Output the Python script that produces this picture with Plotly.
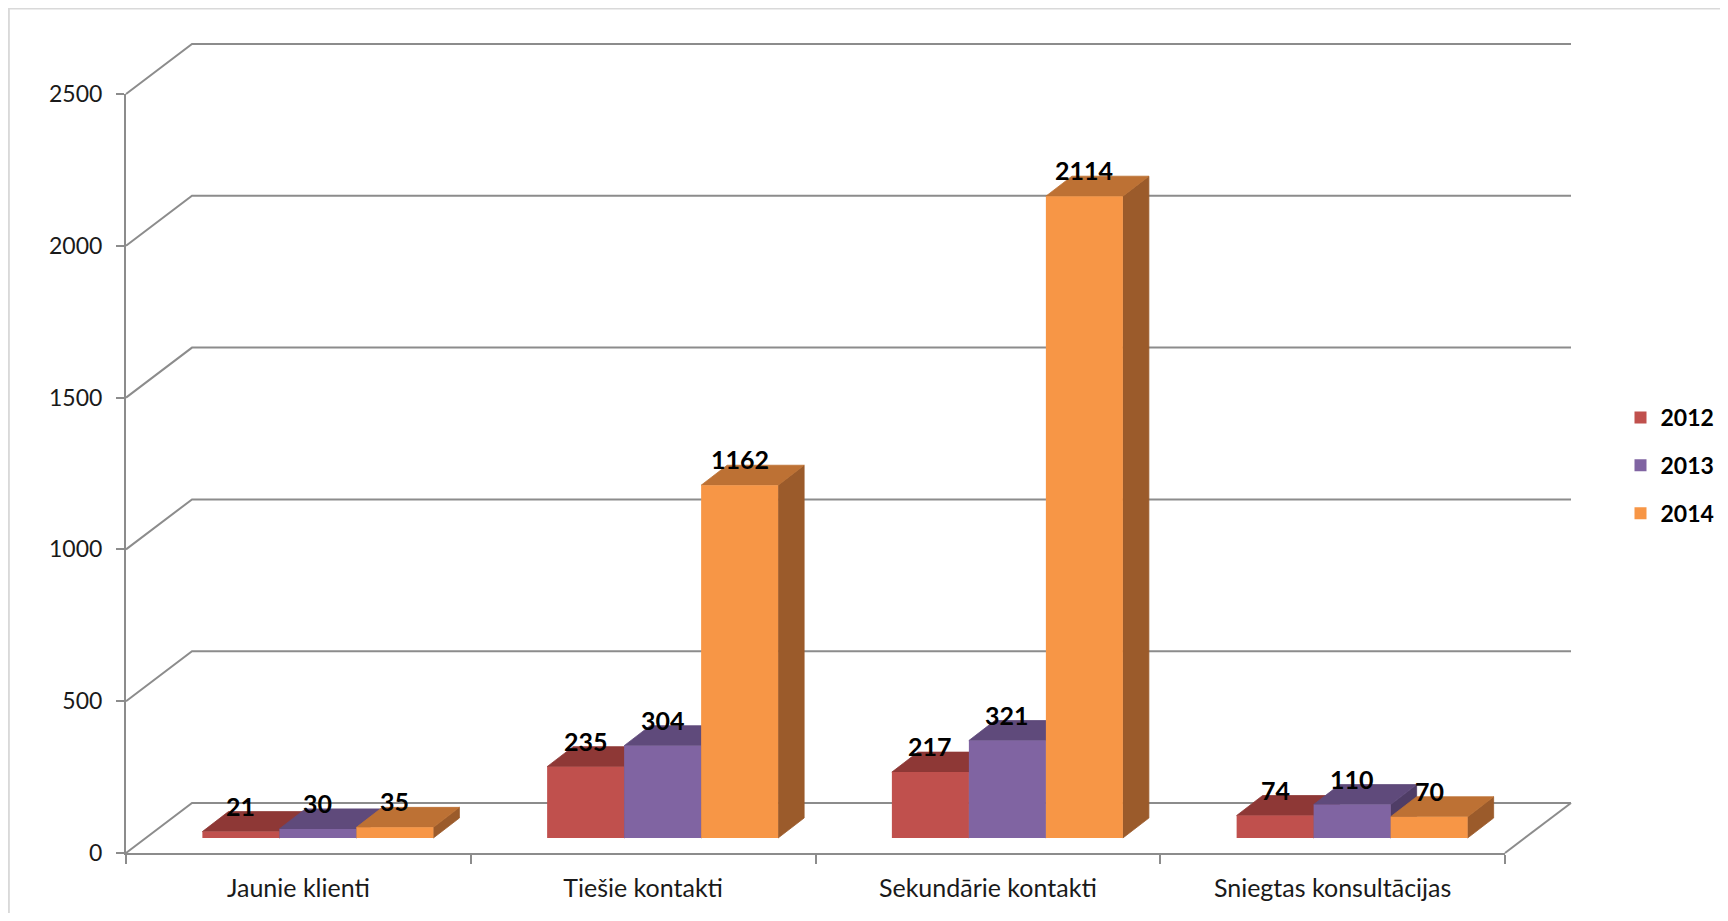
import plotly.graph_objects as go

# ---------------- data ----------------
categories = ["Jaunie klienti", "Tiešie kontakti", "Sekundārie kontakti", "Sniegtas konsultācijas"]
years = ["2012", "2013", "2014"]
values_2012 = [21, 235, 217, 74]
values_2013 = [30, 304, 321, 110]
values_2014 = [35, 1162, 2114, 70]
y_ticks = [0, 500, 1000, 1500, 2000, 2500]

series = [values_2012, values_2013, values_2014]
front_colors = ["#C0504D", "#8064A2", "#F79646"]
top_colors = ["#8E3836", "#5F4A7B", "#BD7134"]
side_colors = ["#7A2E2C", "#4F3D66", "#9B5B2B"]
grid_color = "#8C8C8C"
FONT = "Lato, 'Open Sans', sans-serif"

# ---------------- layout geometry (page pixels) ----------------
W, H = 1712, 905
OFF = 8                      # default body margin of the html page
X0, X1 = 126, 1505           # front plane: left / right
Y0, Y1 = 853, 94             # front plane: value 0 / value YMAX
YMAX = y_ticks[-1]
n = len(categories)
cat_px = (X1 - X0) / n
k = (Y0 - Y1) / YMAX         # pixels per value unit
BACK = (66, -50)             # wall depth offset
BAR_OFF = (19.5, -15)        # bar front plane offset from front plane
BAR_DEPTH = (26, -20)        # bar depth
BAR_W = 77


def pxx(p):
    return (p - OFF) / W


def pxy(p):
    return 1 - (p - OFF) / H


bx = BAR_OFF[0] / cat_px
by = -BAR_OFF[1] / k
w = BAR_W / cat_px
dxu = BAR_DEPTH[0] / cat_px
dyu = -BAR_DEPTH[1] / k

fig = go.Figure()

# 3D top & side faces (drawn left to right, under the front faces)
for i in range(n):
    for j, vals in enumerate(series):
        v = vals[i]
        left = i + bx + (j - 1.5) * w
        right = left + w
        bot = by
        top = by + v
        side_x = [right, right, right + dxu, right + dxu, right]
        side_y = [bot, top, top + dyu, bot + dyu, bot]
        top_x = [left, right, right + dxu, left + dxu, left]
        top_y = [top, top, top + dyu, top + dyu, top]
        for xs, ys, col in ((side_x, side_y, side_colors[j]), (top_x, top_y, top_colors[j])):
            fig.add_trace(go.Scatter(
                x=xs, y=ys, mode="lines", fill="toself", fillcolor=col,
                line=dict(color=col, width=0.8), showlegend=False,
                hoverinfo="skip", xaxis="x", yaxis="y"))

# front faces (bars) on an overlaying axis pair so they sit above the faces
for j, vals in enumerate(series):
    fig.add_trace(go.Bar(
        x=list(range(n)), y=vals, base=[by] * n,
        offset=bx + (j - 1.5) * w, width=w,
        marker=dict(color=front_colors[j], line=dict(width=0)),
        name=years[j], legendgroup=years[j],
        xaxis="x2", yaxis="y2"))

# value labels
annotations = []
for i in range(n):
    for j, vals in enumerate(series):
        v = vals[i]
        annotations.append(dict(
            x=i + bx + (j - 1) * w, y=by + v, xref="x", yref="y",
            text=str(v), showarrow=False, yshift=26, yanchor="middle",
            font=dict(family=FONT, size=25, color="#000000", weight="bold")))

# perspective gridlines (walls)
shapes = []
for v in y_ticks:
    fy = Y0 - k * v
    path = "M{},{} L{},{} L{},{}".format(
        pxx(X0), pxy(fy), pxx(X0 + BACK[0]), pxy(fy + BACK[1]),
        pxx(X1 + BACK[0]), pxy(fy + BACK[1]))
    shapes.append(dict(type="path", path=path, xref="paper", yref="paper",
                       line=dict(color=grid_color, width=2), layer="below"))
shapes.append(dict(type="line", xref="paper", yref="paper",
                   x0=pxx(X1), y0=pxy(Y0), x1=pxx(X1 + BACK[0]), y1=pxy(Y0 + BACK[1]),
                   line=dict(color=grid_color, width=2), layer="below"))
# chart border (top & left)
shapes.append(dict(type="line", xref="paper", yref="paper", x0=0.0005, y0=0, x1=0.0005, y1=1,
                   line=dict(color="#D9D9D9", width=2)))
shapes.append(dict(type="line", xref="paper", yref="paper", x0=0, y0=0.9995, x1=1, y1=0.9995,
                   line=dict(color="#D9D9D9", width=2)))

xdom = [pxx(X0), pxx(X1)]
ydom = [pxy(Y0), pxy(Y1)]

fig.update_layout(
    width=W, height=H,
    margin=dict(l=0, r=0, t=0, b=0, autoexpand=False),
    paper_bgcolor="white", plot_bgcolor="rgba(0,0,0,0)",
    barmode="overlay",
    font=dict(family=FONT, color="#1a1a1a"),
    xaxis=dict(domain=xdom, range=[-0.5, n - 0.5], anchor="y", automargin=False,
               tickmode="array", tickvals=list(range(n)), ticktext=categories,
               ticks="", showline=True, linecolor=grid_color, linewidth=2,
               showgrid=False, zeroline=False, ticklabelstandoff=12,
               tickfont=dict(family=FONT, size=25, color="#1a1a1a"),
               minor=dict(tickmode="array", tickvals=[i - 0.5 for i in range(n + 1)],
                          ticks="outside", ticklen=9, tickwidth=2, tickcolor=grid_color,
                          showgrid=False)),
    yaxis=dict(domain=ydom, range=[0, YMAX], anchor="x", automargin=False,
               tickmode="array", tickvals=y_ticks,
               ticks="outside", ticklen=8, tickwidth=2, tickcolor=grid_color,
               showline=True, linecolor=grid_color, linewidth=2,
               showgrid=False, zeroline=False, ticklabelstandoff=9,
               tickfont=dict(family=FONT, size=23, color="#1a1a1a")),
    xaxis2=dict(overlaying="x", range=[-0.5, n - 0.5], anchor="y2", visible=False),
    yaxis2=dict(overlaying="y", range=[0, YMAX], anchor="x2", visible=False),
    legend=dict(x=pxx(1620.5), y=pxy(396), xanchor="left", yanchor="top",
                font=dict(family=FONT, size=23, color="#000000", weight="bold"),
                tracegroupgap=15, bgcolor="rgba(0,0,0,0)", itemwidth=30),
    annotations=annotations,
    shapes=shapes,
)

fig.write_html("out.html")
